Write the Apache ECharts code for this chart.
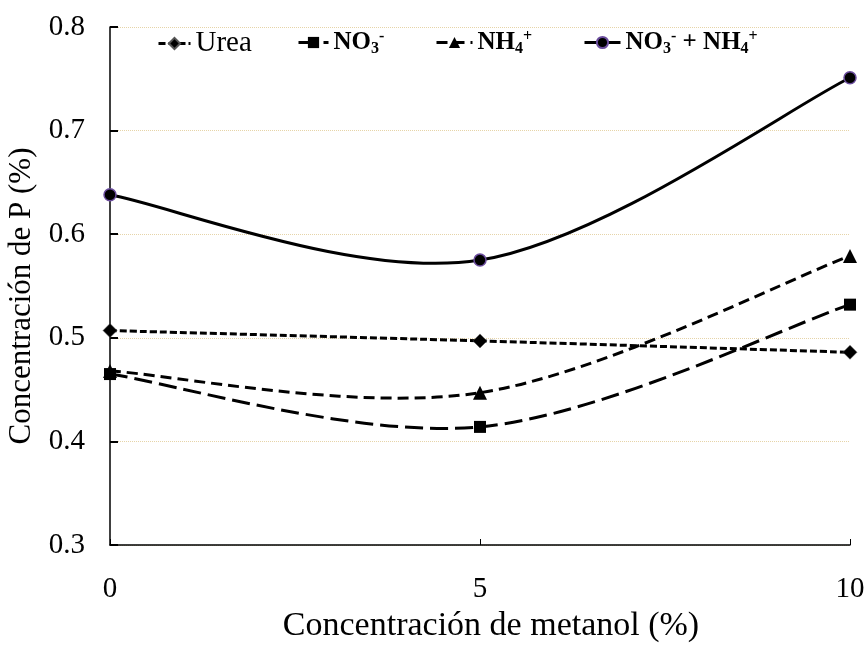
<!DOCTYPE html>
<html><head><meta charset="utf-8">
<script src="https://cdn.jsdelivr.net/npm/echarts@6/dist/echarts.min.js"></script>
<style>html,body{margin:0;padding:0;background:#fff}#c{width:868px;height:647px}</style>
</head><body><div id="c"></div>
<script>
const xValues = [0, 5, 10];
const urea = [0.507, 0.497, 0.486];
const no3 = [0.465, 0.414, 0.532];
const nh4 = [0.468, 0.447, 0.579];
const no3nh4 = [0.638, 0.575, 0.751];
const yTicks = [0.3, 0.4, 0.5, 0.6, 0.7, 0.8];
const xTitle = 'Concentración de metanol (%)';
const yTitle = 'Concentración de P (%)';

const FONT = '"Liberation Serif", "Times New Roman", serif';
const pairs = arr => xValues.map((x, i) => [x, arr[i]]);

const richStyles = {
  n: {fontFamily: FONT, fontSize: 29, color: '#000'},
  b: {fontFamily: FONT, fontSize: 25, fontWeight: 'bold', color: '#000'},
  sub: {fontFamily: FONT, fontSize: 16, fontWeight: 'bold', color: '#000', padding: [12, 0, 0, 0]},
  sup: {fontFamily: FONT, fontSize: 16, fontWeight: 'bold', color: '#000', padding: [0, 0, 11, 0]}
};
const legendText = {
  'Urea': '{n|Urea}',
  'NO3-': '{b|NO}{sub|3}{sup|-}',
  'NH4+': '{b|NH}{sub|4}{sup|+}',
  'NO3- + NH4+': '{b|NO}{sub|3}{sup|-}{b| + NH}{sub|4}{sup|+}'
};
const styles = {
  'Urea': {dash: [7, 3], symbol: 'diamond', size: 14},
  'NO3-': {dash: [18, 7], symbol: 'rect', size: 12},
  'NH4+': {dash: [11, 6], symbol: 'triangle', size: 14},
  'NO3- + NH4+': {dash: 'solid', symbol: 'circle', size: 12}
};
function mkLegend(name, left, w) {
  return {
    data: [name], left: left, top: 24, itemWidth: w, itemHeight: 14, itemGap: 5,
    formatter: n => legendText[n],
    lineStyle: {color: '#000', width: 3, opacity: 1, type: styles[name].dash},
    textStyle: {rich: richStyles, fontFamily: FONT}
  };
}
// Excel-style smoothed curve (Catmull-Rom Bezier) through data points, via axis scales
function mkCurve(values, dash) {
  return {
    type: 'custom', silent: true, z: 2,
    data: [[xValues[0], values[0]]],
    renderItem: function (params, api) {
      const p = xValues.map((x, i) => api.coord([x, values[i]]));
      let d = 'M' + p[0][0] + ' ' + p[0][1];
      for (let i = 0; i < p.length - 1; i++) {
        const p0 = p[i - 1] || p[i], p1 = p[i], p2 = p[i + 1], p3 = p[i + 2] || p[i + 1];
        const c1 = [p1[0] + (p2[0] - p0[0]) / 6, p1[1] + (p2[1] - p0[1]) / 6];
        const c2 = [p2[0] - (p3[0] - p1[0]) / 6, p2[1] - (p3[1] - p1[1]) / 6];
        d += ' C' + c1[0] + ' ' + c1[1] + ' ' + c2[0] + ' ' + c2[1] + ' ' + p2[0] + ' ' + p2[1];
      }
      return {
        type: 'path', shape: {pathData: d},
        style: {fill: 'none', stroke: '#000', lineWidth: 3, lineDash: dash === 'solid' ? null : dash}
      };
    }
  };
}
function mkPoints(name, values, extra) {
  const s = styles[name];
  return Object.assign({
    name: name, type: 'line', data: pairs(values), z: 3,
    symbol: s.symbol, symbolSize: s.size, showAllSymbol: true,
    itemStyle: {color: '#000'},
    lineStyle: {color: '#000', width: 0, opacity: 0, type: s.dash}
  }, extra || {});
}

const chart = echarts.init(document.getElementById('c'));
chart.setOption({
  animation: false,
  backgroundColor: '#fff',
  grid: {left: 110, right: 18, top: 27, bottom: 102, outerBoundsMode: 'none', containLabel: false},
  legend: [
    mkLegend('Urea', 152, 32),
    mkLegend('NO3-', 292, 30),
    mkLegend('NH4+', 430, 36),
    mkLegend('NO3- + NH4+', 578, 36)
  ],
  xAxis: {
    type: 'value', min: 0, max: 10, interval: 5,
    name: xTitle, nameLocation: 'middle', nameGap: 64,
    nameTextStyle: {fontFamily: FONT, fontSize: 34, color: '#000', padding: [0, 0, 0, 22]},
    axisLine: {lineStyle: {color: '#000', width: 1.5}},
    axisTick: {inside: true, length: 6, lineStyle: {color: '#000'}},
    axisLabel: {margin: 30, fontFamily: FONT, fontSize: 29, color: '#000'},
    splitLine: {show: false}
  },
  yAxis: {
    type: 'value', min: 0.3, max: 0.8, interval: 0.1,
    name: yTitle, nameLocation: 'middle', nameGap: 72,
    nameTextStyle: {fontFamily: FONT, fontSize: 31, color: '#000', padding: [0, 20, 0, 0]},
    axisLine: {show: true, lineStyle: {color: '#000', width: 1.5}},
    axisTick: {show: true, inside: true, length: 8, lineStyle: {color: '#000', width: 2}},
    axisLabel: {margin: 25, fontFamily: FONT, fontSize: 29, color: '#000',
      formatter: v => yTicks.find(t => Math.abs(t - v) < 1e-9).toFixed(1)},
    splitLine: {show: true, lineStyle: {color: '#e6d4a8', type: 'dotted', width: 1}}
  },
  series: [
    mkCurve(urea, styles['Urea'].dash),
    mkCurve(no3, styles['NO3-'].dash),
    mkCurve(nh4, styles['NH4+'].dash),
    mkCurve(no3nh4, styles['NO3- + NH4+'].dash),
    mkPoints('Urea', urea, {itemStyle: {color: '#000', borderColor: '#555', borderWidth: 0.5}}),
    mkPoints('NO3-', no3),
    mkPoints('NH4+', nh4),
    mkPoints('NO3- + NH4+', no3nh4, {itemStyle: {color: '#000', borderColor: '#6a4c9c', borderWidth: 1.5}})
  ]
});
</script></body></html>
